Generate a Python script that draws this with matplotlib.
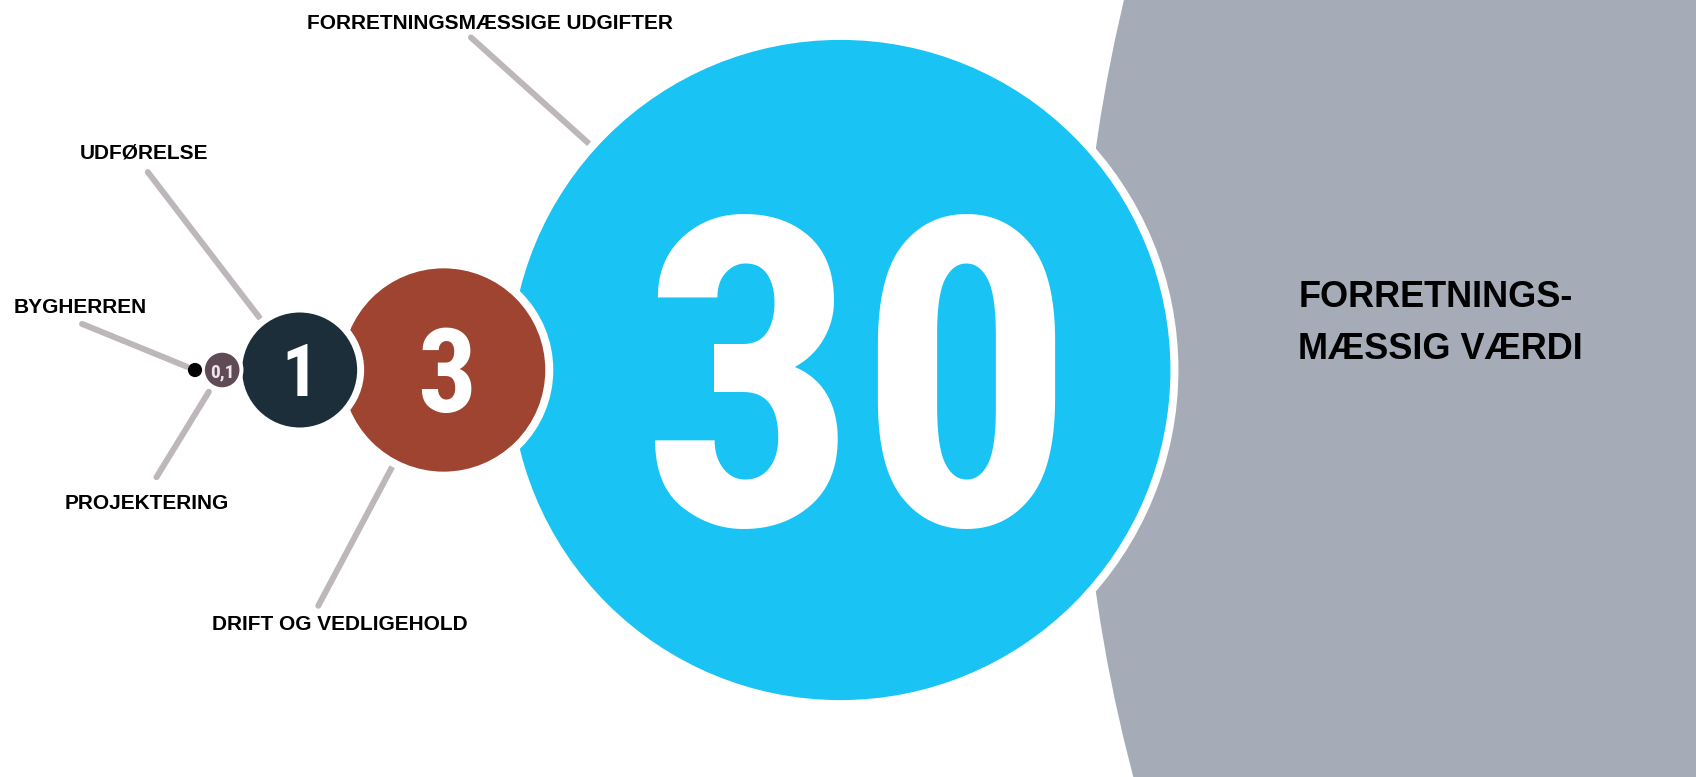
import numpy as np
import matplotlib
matplotlib.use("Agg")
import matplotlib.pyplot as plt
from matplotlib.patches import Circle
from matplotlib import font_manager as fm

# ---------------- data ----------------
categories = ["BYGHERREN", "PROJEKTERING", "UDFØRELSE", "DRIFT OG VEDLIGEHOLD",
              "FORRETNINGSMÆSSIGE UDGIFTER", "FORRETNINGSMÆSSIG VÆRDI"]
values = [0.0135, 0.1, 1, 3, 30, 680]
value_labels = ["", "0,1", "1", "3", "30", ""]
big_label_lines = ["FORRETNINGS-", "MÆSSIG VÆRDI"]

# ---------------- styles / layout ----------------
colors = ["#000000", "#5F4B55", "#1B2E39", "#9F4430", "#19C3F4", "#A5ABB7"]
edge_px = [0, 4, 7, 8, 8, 8]
value_sizes = [0, 14, 52, 84, 310, 0]
value_dx = [0, 0, 0, 3.5, 18, 0]
value_colors = ["white", "#EEE6EA", "white", "white", "white", "white"]
spacing = [1.03, 0.965, 0.864, 0.902, 0.949]   # centre distance / (r1 + r2)
k = 61.0                                         # px per sqrt(value)
start_x, centre_y = 195.0, 370.0

# leader lines: (circle index, angle deg, inner r, outer r, text dx, text dy)
leaders = [
    (0, -157.8, 8.5, 122, -2, -11),
    (1, 121.5, 25.5, 125.7, -10, 32),
    (2, -127.5, 66, 249.5, -3.5, -14),
    (3, 118, 110, 267, 22, 24),
    (4, -138, 338, 497, 19, -8),
]
line_color = "#BDB7BB"

px = 0.72  # points per pixel at dpi 100

names = {f.name for f in fm.fontManager.ttflist}
num_family = "DejaVu Sans"
for cand in ["Nimbus Sans Narrow", "Liberation Sans Narrow", "Arial Narrow",
             "Roboto Condensed", "Archivo Narrow", "Pragati Narrow",
             "Barlow Semi Condensed"]:
    if cand in names:
        num_family = cand
        break
lab_font = "Liberation Sans" if "Liberation Sans" in names else "DejaVu Sans"

fig = plt.figure(figsize=(16.96, 7.77), dpi=100)
ax = fig.add_axes([0, 0, 1, 1])
ax.set_xlim(0, 1696)
ax.set_ylim(777, 0)
ax.set_aspect("equal")
ax.axis("off")

radii = k * np.sqrt(np.array(values, dtype=float))
cx = [start_x]
for i in range(len(values) - 1):
    cx.append(cx[-1] + spacing[i] * (radii[i] + radii[i + 1]))

# circles: largest at the bottom
order = np.argsort(values)[::-1]
for z, i in enumerate(order):
    ax.add_patch(Circle((cx[i], centre_y), radii[i], facecolor=colors[i],
                        edgecolor="white", linewidth=edge_px[i] * px,
                        zorder=2 + z))
    if value_labels[i]:
        fs_px = value_sizes[i] / px
        ax.text(cx[i] + value_dx[i], centre_y + 0.36 * fs_px, value_labels[i],
                ha="center", va="baseline", fontsize=value_sizes[i],
                fontweight="bold", color=value_colors[i], zorder=20,
                family=num_family)

# leader lines and labels
for (ci, ang, rin, rout, tdx, tdy) in leaders:
    a = np.deg2rad(ang)
    x_in, y_in = cx[ci] + rin * np.cos(a), centre_y + rin * np.sin(a)
    x_out, y_out = cx[ci] + rout * np.cos(a), centre_y + rout * np.sin(a)
    ax.plot([x_in, x_out], [y_in, y_out], color=line_color, lw=6 * px,
            solid_capstyle="round", zorder=1)
    ax.text(x_out + tdx, y_out + tdy, categories[ci], ha="center", va="baseline",
            fontsize=15, fontweight="bold", color="black", family=lab_font,
            zorder=20)

# label for the largest circle
gx = cx[-1] - radii[-1]
for j, line in enumerate(big_label_lines):
    ax.text(gx + 222, 307 + 52 * j, line, ha="left", va="baseline",
            fontsize=26, fontweight="bold", color="black", family=lab_font,
            zorder=20)

fig.savefig("out.png", dpi=100)
